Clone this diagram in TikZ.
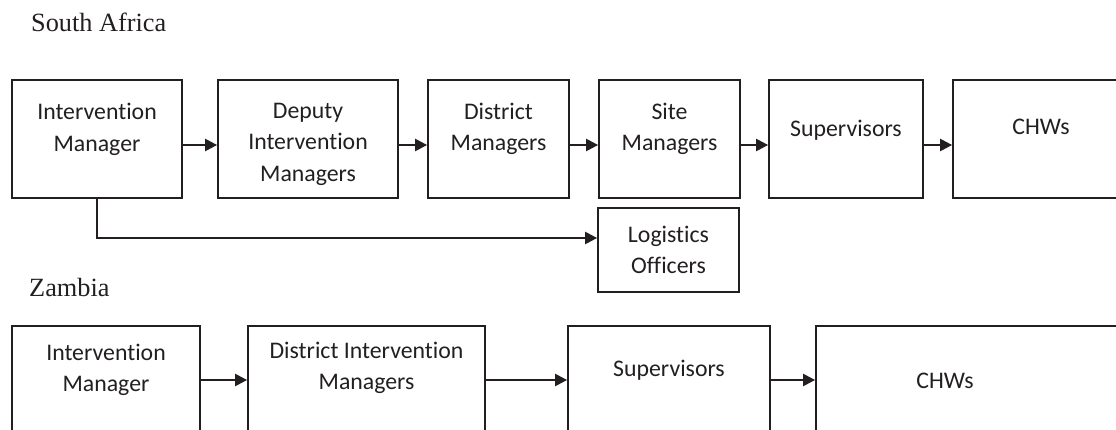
\documentclass[tikz,border=0pt]{standalone}
\usepackage{fontspec}
\setmainfont{Carlito}[Ligatures=NoCommon]
\newfontfamily\titlefont{Liberation Serif}
\usetikzlibrary{arrows.meta}
\definecolor{ink}{HTML}{231F20}
\begin{document}
\begin{tikzpicture}[x=1pt,y=-1pt,
  box/.style={draw=ink,line width=2pt,inner sep=0pt,minimum width=#1},
  box/.default=141,
  txt/.style={text=ink,align=center,inner sep=0pt,font=\fontsize{23.8}{31.5}\selectfont},
  ttl/.style={text=ink,anchor=base west,inner sep=0pt,font=\titlefont\fontsize{26.3}{30}\selectfont},
  conn/.style={draw=ink,line width=1.1pt,-{Triangle[length=12pt,width=12.5pt]}}]
\useasboundingbox (0,0) rectangle (1116,430);
\clip (0,0) rectangle (1116,430);

% headings
\node[ttl] (hsa) at (31,32) {South Africa};
\node[ttl] (hzm) at (29,297) {Zambia};

% South Africa chain
\node[box=170,minimum height=118] (sa1) at (97,139) {};
\node[box=180,minimum height=118] (sa2) at (308,139) {};
\node[box=141,minimum height=118] (sa3) at (498.5,139) {};
\node[box=141,minimum height=118] (sa4) at (669.5,139) {};
\node[box=154,minimum height=118] (sa5) at (846,139) {};
\node[box=176,minimum height=118] (sa6) at (1041,139) {};
\node[box=141,minimum height=84] (lo) at (668.5,250) {};

\node[txt] (sa1t) at (97,129.5) {Intervention\\Manager};
\node[txt] (sa2t) at (308,144) {Deputy\\Intervention\\Managers};
\node[txt] (sa3t) at (498.5,129) {District\\Managers};
\node[txt] (sa4t) at (669.5,129) {Site\\Managers};
\node[txt] (sa5t) at (846,130) {Supervisors};
\node[txt] (sa6t) at (1041,127) {CHWs};
\node[txt] (lot) at (668.5,250) {Logistics\\Officers};

\coordinate (rowa) at (0,145);
\coordinate (rowl) at (0,238);
\draw[conn] (sa1.east |- rowa) -- (sa2.west |- rowa);
\draw[conn] (sa2.east |- rowa) -- (sa3.west |- rowa);
\draw[conn] (sa3.east |- rowa) -- (sa4.west |- rowa);
\draw[conn] (sa4.east |- rowa) -- (sa5.west |- rowa);
\draw[conn] (sa5.east |- rowa) -- (sa6.west |- rowa);
\draw[conn] (sa1.south) |- (lo.west |- rowl);

% Zambia chain
\node[box=188,minimum height=118] (zm1) at (106,385) {};
\node[box=237,minimum height=118] (zm2) at (366.5,385) {};
\node[box=202,minimum height=118] (zm3) at (669,385) {};
\node[box=324,minimum height=118] (zm4) at (978,385) {};

\node[txt] (zm1t) at (106,370) {Intervention\\Manager};
\node[txt] (zm2t) at (366.5,368) {District Intervention\\Managers};
\node[txt] (zm3t) at (669,370) {Supervisors};
\node[txt] (zm4t) at (945,381) {CHWs};

\coordinate (rowb) at (0,380);
\draw[conn] (zm1.east |- rowb) -- (zm2.west |- rowb);
\draw[conn] (zm2.east |- rowb) -- (zm3.west |- rowb);
\draw[conn] (zm3.east |- rowb) -- (zm4.west |- rowb);
\end{tikzpicture}
\end{document}
